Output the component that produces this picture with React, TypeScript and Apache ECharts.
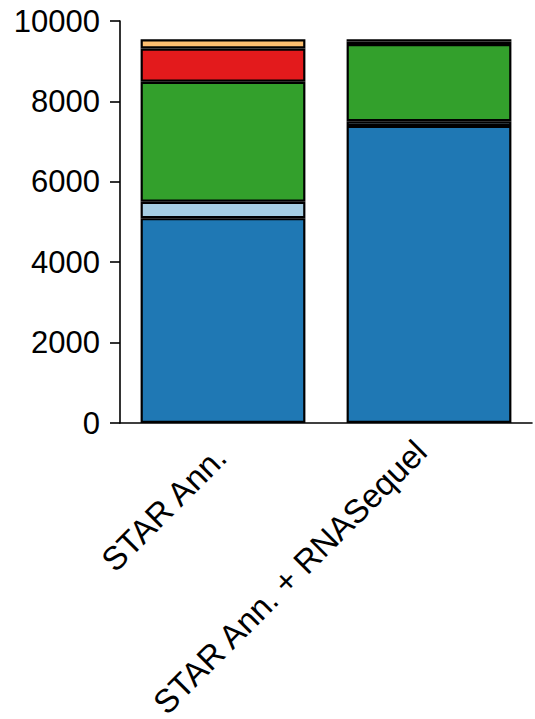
import React, { useEffect, useRef } from "react";
import * as echarts from "echarts";

const categories = ["STAR Ann.", "STAR Ann. + RNASequel"];
const darkBlue = [5096, 7391];
const lightBlue = [406, 115];
const green = [2987, 1921];
const red = [826, 60];
const orange = [230, 58];
const yTicks = { min: 0, max: 10000, interval: 2000 };

const FONT = "Liberation Sans, Arial, sans-serif";

export default function App() {
  const ref = useRef<HTMLDivElement>(null);
  useEffect(() => {
    if (!ref.current) return;
    const chart = echarts.init(ref.current, undefined, { renderer: "svg" });
    const seg = (name: string, data: number[], color: string) => ({
      name,
      type: "bar",
      stack: "total",
      data,
      barWidth: "80%",
      itemStyle: { color, borderColor: "#000", borderWidth: 2.2 },
    });
    const labelText = { fontSize: 33, color: "#000", fontFamily: FONT };
    chart.setOption({
      animation: false,
      backgroundColor: "#fff",
      grid: {
        left: 120,
        right: 3,
        top: 21,
        bottom: 296,
        containLabel: false,
        outerBoundsMode: "none",
      },
      xAxis: {
        type: "category",
        data: categories,
        axisLine: { lineStyle: { color: "#000", width: 1.6 } },
        axisTick: { alignWithLabel: true, length: 10, lineStyle: { color: "#000", width: 1.6 } },
        axisLabel: {
          rotate: 45,
          fontSize: 33,
          color: "#000",
          fontFamily: FONT,
          margin: 31,
          interval: 0,
          verticalAlign: "bottom",
          formatter: (v: string, i: number) => `{l${i}|${v}}`,
          rich: {
            l0: { ...labelText, lineHeight: 6.5 },
            l1: { ...labelText, lineHeight: 22.9 },
          },
        },
      },
      yAxis: {
        type: "value",
        min: yTicks.min,
        max: yTicks.max,
        interval: yTicks.interval,
        splitLine: { show: false },
        axisLine: { show: true, lineStyle: { color: "#000", width: 1.6 } },
        axisTick: { show: true, length: 10, lineStyle: { color: "#000", width: 1.6 } },
        axisLabel: {
          fontSize: 31,
          color: "#000",
          fontFamily: FONT,
          margin: 20,
          formatter: (v: number) => String(v),
        },
      },
      series: [
        seg("Segment 1", darkBlue, "#1f78b4"),
        seg("Segment 2", lightBlue, "#a6cee3"),
        seg("Segment 3", green, "#33a02c"),
        seg("Segment 4", red, "#e31a1c"),
        seg("Segment 5", orange, "#fdbf6f"),
      ],
    });
    return () => chart.dispose();
  }, []);
  return (
    <div
      ref={ref}
      style={{ position: "fixed", left: 0, top: 0, width: 535, height: 719 }}
    />
  );
}
